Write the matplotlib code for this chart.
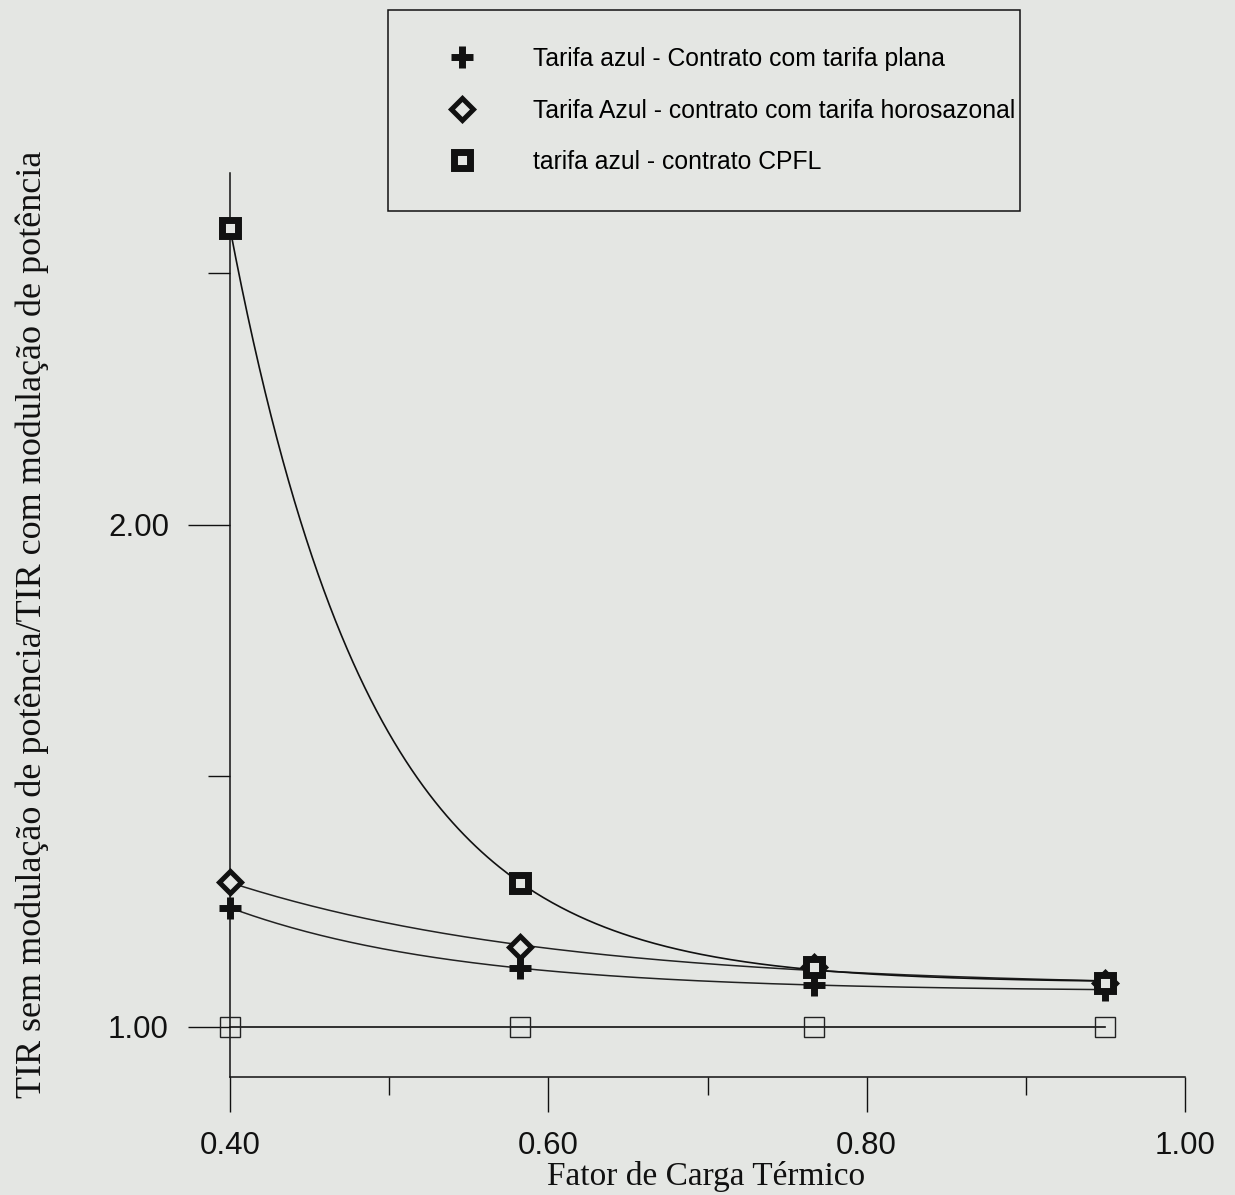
import numpy as np
import matplotlib
matplotlib.use("Agg")
import matplotlib.pyplot as plt
from matplotlib.ticker import FixedLocator, NullFormatter

# Data: ratio of internal rates of return vs. thermal load factor
fator_carga = np.array([0.40, 0.582, 0.767, 0.950])
tarifa_plana = np.array([1.237, 1.117, 1.083, 1.074])
tarifa_horosazonal = np.array([1.288, 1.159, 1.120, 1.087])
contrato_cpfl = np.array([2.590, 1.286, 1.119, 1.087])
referencia = np.array([1.00, 1.00, 1.00, 1.00])

labels = [
    "Tarifa azul - Contrato com tarifa plana",
    "Tarifa Azul - contrato com tarifa horosazonal",
    "tarifa azul - contrato CPFL",
]
x_ticks = [0.40, 0.60, 0.80, 1.00]
x_minor = [0.50, 0.70, 0.90]
y_ticks = [1.00, 2.00]
y_minor = [1.50, 2.50]

BG = "#e4e6e3"
INK = "#111111"


def exp_fit(x, y):
    """Least-squares fit of y = c + a*exp(-k x); returns a callable."""
    best = None
    for k in np.linspace(0.5, 40, 800):
        A = np.column_stack([np.ones_like(x), np.exp(-k * x)])
        coef, *_ = np.linalg.lstsq(A, y, rcond=None)
        r = np.sum((A @ coef - y) ** 2)
        if best is None or r < best[0]:
            best = (r, k, coef)
    _, k, (c, a) = best
    return lambda t: c + a * np.exp(-k * t)


W, H = 1235, 1195
fig = plt.figure(figsize=(W / 100, H / 100), dpi=100, facecolor=BG)
ax = fig.add_axes([230 / W, 1 - 1077 / H, (1185 - 230) / W, (1077 - 173) / H])
ax.set_facecolor(BG)

ax.set_xlim(0.40, 1.00)
ax.set_ylim(0.90, 2.70)

xs = np.linspace(fator_carga.min(), fator_carga.max(), 300)

# fitted curves
for ys, lw, col in [(tarifa_plana, 1.1, "#222222"),
                    (tarifa_horosazonal, 1.1, "#222222"),
                    (contrato_cpfl, 1.2, INK)]:
    f = exp_fit(fator_carga, ys)
    ax.plot(xs, f(xs), color=col, lw=lw, zorder=2, clip_on=False)

# reference line at 1.0
ax.plot(fator_carga, referencia, color=INK, lw=1.2, zorder=2, clip_on=False)
ax.plot(fator_carga, referencia, ls="none", marker="s", ms=15,
        mfc="none", mec="#222222", mew=1.0, zorder=3, clip_on=False)

# markers
ax.plot(fator_carga, tarifa_plana, ls="none", marker="+", ms=16, mew=5,
        mec=INK, zorder=4, label=labels[0], clip_on=False)
ax.plot(fator_carga, tarifa_horosazonal, ls="none", marker="D", ms=11.5,
        mfc=BG, mec=INK, mew=3.6, zorder=4, label=labels[1], clip_on=False)
ax.plot(fator_carga, contrato_cpfl, ls="none", marker="s", ms=11,
        mfc=BG, mec=INK, mew=5, zorder=5, label=labels[2], clip_on=False)

# axes styling
for s in ["top", "right"]:
    ax.spines[s].set_visible(False)
for s in ["left", "bottom"]:
    ax.spines[s].set_linewidth(1.1)
    ax.spines[s].set_color(INK)

ax.xaxis.set_major_locator(FixedLocator(x_ticks))
ax.xaxis.set_minor_locator(FixedLocator(x_minor))
ax.yaxis.set_major_locator(FixedLocator(y_ticks))
ax.yaxis.set_minor_locator(FixedLocator(y_minor))
ax.set_xticklabels([f"{v:.2f}" for v in x_ticks])
ax.set_yticklabels([f"{v:.2f}" for v in y_ticks])
ax.yaxis.set_minor_formatter(NullFormatter())
ax.xaxis.set_minor_formatter(NullFormatter())

ax.tick_params(axis="x", which="major", direction="out", length=25, width=1.0,
               pad=14, labelsize=22.5, colors=INK)
ax.tick_params(axis="x", which="minor", direction="out", length=13, width=1.0,
               colors=INK)
ax.tick_params(axis="y", which="major", direction="out", length=30, width=1.0,
               pad=14, labelsize=22.5, colors=INK)
ax.tick_params(axis="y", which="minor", direction="out", length=16, width=1.0,
               colors=INK)
for lab in ax.get_xticklabels() + ax.get_yticklabels():
    lab.set_family("Liberation Sans")

ax.set_xlabel("Fator de Carga Térmico", family="Liberation Serif",
              fontsize=24, color=INK)
ax.set_ylabel("TIR sem modulação de potência/TIR com modulação de potência",
              family="Liberation Serif", fontsize=26, color=INK)
# label positions in axes coordinates
ax_w, ax_h = 1185 - 230, 1077 - 173
ax.xaxis.set_label_coords((706 - 230) / ax_w, -(1177 - 1077) / ax_h)
ax.xaxis.label.set_verticalalignment("center")
ax.yaxis.set_label_coords(-(230 - 32) / ax_w, (1077 - 624) / ax_h)
ax.yaxis.label.set_verticalalignment("center")

fs_leg = 17.8
leg = ax.legend(
    loc="upper left",
    bbox_to_anchor=(388 / W, 1 - 212 / H, (1020 - 388) / W, (212 - 10) / H),
    bbox_transform=fig.transFigure,
    mode="expand", borderaxespad=0,
    frameon=True, fancybox=False, framealpha=1,
    facecolor=BG, edgecolor=INK,
    prop={"family": "Liberation Sans", "size": fs_leg},
    borderpad=1.5, labelspacing=1.11, handlelength=3.0, handletextpad=1.38,
    numpoints=1, markerscale=1.0,
)
leg.get_frame().set_linewidth(1.1)

fig.savefig("out.png", dpi=100, facecolor=BG)
